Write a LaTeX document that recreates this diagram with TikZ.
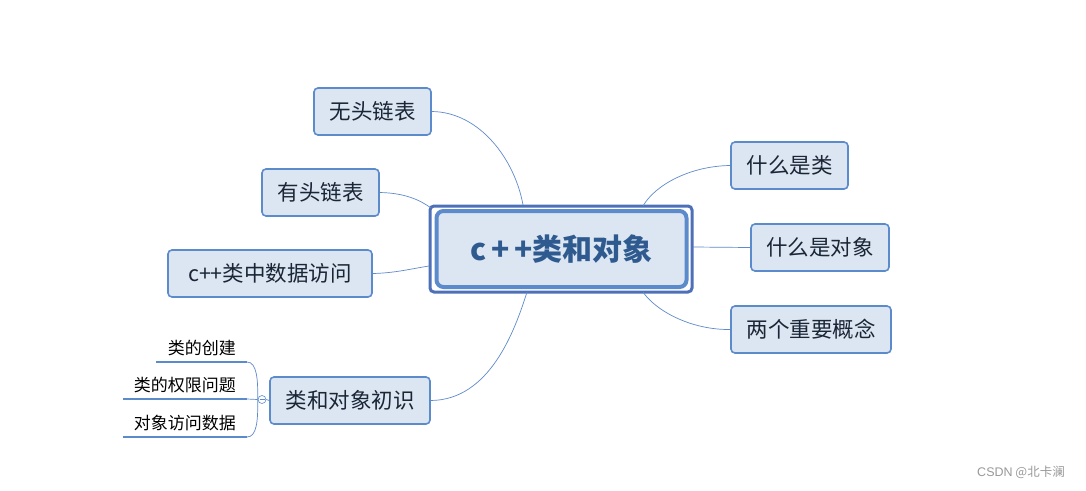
\documentclass[tikz,border=0pt]{standalone}
\usepackage{fontspec}
\setmainfont{Noto Sans CJK SC}
\newfontfamily\latinsans{Liberation Sans}
\begin{document}
\begin{tikzpicture}[x=1pt,y=-1pt,
  topic/.style={draw=boxline,line width=1.6pt,fill=boxfill,rounded corners=4pt,
     inner sep=0pt,font=\fontsize{21.5}{23}\selectfont,text=txt},
  link/.style={draw=linkc,line width=0.7pt},
  sub/.style={inner sep=0pt,font=\fontsize{17}{19}\selectfont,text=black,anchor=south east},
  uline/.style={draw=boxline,line width=2.2pt}]
\definecolor{boxline}{HTML}{5B8BCB}
\definecolor{boxfill}{HTML}{DCE6F2}
\definecolor{txt}{HTML}{1A2535}
\definecolor{linkc}{HTML}{5F8ACB}
\definecolor{outerc}{HTML}{4D70B8}
\definecolor{centxt}{HTML}{2F5A8F}
\useasboundingbox (0,0) rectangle (1086,490);
\fill[white] (0,0) rectangle (1086,490);
% centre
\draw[outerc,line width=3pt,rounded corners=4pt] (430,206) rectangle (692,292);
\node[draw=boxline,line width=4pt,fill=boxfill,rounded corners=7pt,minimum width=250pt,minimum height=76pt,inner sep=0pt,
  font=\fontsize{30}{32}\selectfont\bfseries,text=centxt] (c) at (561.5,249) {c\,+\,+类和对象};
% topics
\node[topic,minimum width=117pt,minimum height=47pt] (a) at (372.5,111.5) {无头链表};
\node[topic,minimum width=117pt,minimum height=47pt] (b) at (320.5,192.5) {有头链表};
\node[topic,minimum width=204pt,minimum height=47pt] (d) at (270,273.5) {c++类中数据访问};
\node[topic,minimum width=160pt,minimum height=47pt] (e) at (350,400.5) {类和对象初识};
\node[topic,minimum width=117pt,minimum height=47pt] (f) at (789.5,165.5) {什么是类};
\node[topic,minimum width=138pt,minimum height=47pt] (g) at (820,247.5) {什么是对象};
\node[topic,minimum width=160pt,minimum height=47pt] (h) at (811,329.5) {两个重要概念};
% connectors
\coordinate (ct) at (523,205);
\coordinate (ctl) at (431,208);
\coordinate (cl) at (429,266);
\coordinate (cb) at (527,292);
\coordinate (ctr) at (643,206);
\coordinate (cr) at (693,247);
\coordinate (cbr) at (643,292);
\draw[link] (a.east) .. controls (480,112) and (515,160) .. (ct);
\draw[link] (b.east) .. controls (405,193) and (420,200) .. (ctl);
\draw[link] (d.east) .. controls (395,273) and (410,269) .. (cl);
\draw[link] (e.east) .. controls (490,400) and (515,330) .. (cb);
\draw[link] (f.west) .. controls (690,166) and (655,185) .. (ctr);
\draw[link] (g.west) -- (cr);
\draw[link] (h.west) .. controls (690,330) and (655,310) .. (cbr);
% subtopics
\coordinate (u1) at (247,362);
\coordinate (u2) at (247,399);
\coordinate (u3) at (247,437);
\node[sub] (s1) at (236,356) {类的创建};
\node[sub] (s2) at (236,393) {类的权限问题};
\node[sub] (s3) at (236,431) {对象访问数据};
\draw[uline] (156,362) -- (u1);
\draw[uline] (123,399) -- (u2);
\draw[uline] (123,437) -- (u3);
\node[draw=linkc,line width=0.6pt,circle,inner sep=0pt,minimum size=8pt,fill=white] (k) at (262,399.5) {};
\draw[linkc,line width=0.6pt] (259.5,399.5) -- (264.5,399.5);
\draw[link] (k.east) -- (e.west);
\draw[link] (u1) .. controls (257,362) and (258,380) .. (k.west);
\draw[link] (u2) -- (k.west);
\draw[link] (u3) .. controls (257,437) and (258,420) .. (k.west);
% watermark
\node[text=gray!80,font=\fontsize{12.5}{14}\selectfont,inner sep=0pt] (w) at (1021,472) {{\latinsans CSDN} @北卡澜};
\end{tikzpicture}
\end{document}
